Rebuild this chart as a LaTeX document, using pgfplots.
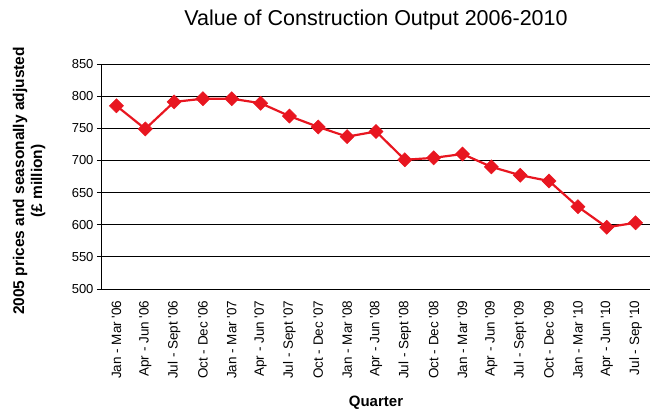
\documentclass[border=0pt]{standalone}
\usepackage{pgfplots}
\pgfplotsset{compat=1.18}
\usepackage{fontspec}
\setmainfont{Liberation Sans}[Ligatures=TeXOff]
\definecolor{serred}{RGB}{232,22,32}
\begin{document}
\begin{tikzpicture}
\path[use as bounding box] (-102bp,-123bp) rectangle (550bp,289bp);
\begin{axis}[
  at={(0,0)}, anchor=south west,
  scale only axis,
  width=548bp, height=225bp,
  xmin=0.5, xmax=19.5,
  ymin=500, ymax=850,
  ytick={500,550,...,850},
  xtick={1,...,19},
  xticklabels={Jan - Mar '06, Apr - Jun '06, Jul - Sept '06, Oct - Dec '06, Jan - Mar '07, Apr - Jun '07, Jul - Sept '07, Oct - Dec '07, Jan - Mar '08, Apr - Jun '08, Jul - Sept '08, Oct - Dec '08, Jan - Mar '09, Apr - Jun '09, Jul - Sept '09, Oct - Dec '09, Jan - Mar '10, Apr - Jun '10, Jul - Sep '10},
  minor xtick={0.5,1.5,...,19.5},
  major x tick style={draw=none},
  xtick style={draw=none},
  minor x tick style={black, line width=0.8bp},
  minor tick length=5bp,
  major tick length=5bp,
  ytick style={black, line width=0.8bp},
  tick align=outside,
  axis x line*=bottom, axis y line*=left,
  axis line style={black, line width=1bp, -},
  ymajorgrids, grid style={black, line width=0.9bp},
  tick label style={font=\fontsize{13bp}{15bp}\selectfont},
  /pgf/number format/assume math mode=true,
  x tick label style={rotate=90, anchor=east, xshift=-3bp, font=\fontsize{13.5bp}{15bp}\selectfont},
  xlabel={\textbf{Quarter}},
  xlabel style={at={(axis description cs:0.5,-0.507)}, anchor=center, font=\fontsize{15bp}{17bp}\selectfont},
  ylabel={\textbf{2005 prices and seasonally adjusted}\\\textbf{(£ million)}},
  ylabel style={at={(axis description cs:-0.133,0.48)}, anchor=center, align=center, font=\fontsize{15.5bp}{18bp}\selectfont},
  title={Value of Construction Output 2006-2010},
  title style={at={(axis description cs:0.5,1.168)}, anchor=center, font=\fontsize{21.5bp}{24bp}\selectfont},
  clip=false,
]
\addplot[serred, line width=2.2bp, mark=square*, mark size=5bp, mark options={rotate=45, fill=serred, draw=serred, line width=0.5bp}]
coordinates {
(1,785) (2,749) (3,791) (4,796) (5,796) (6,789) (7,769) (8,752) (9,737) (10,745)
(11,701) (12,704) (13,710) (14,690) (15,677) (16,668) (17,628) (18,596) (19,603)
};
\end{axis}
\end{tikzpicture}
\end{document}
